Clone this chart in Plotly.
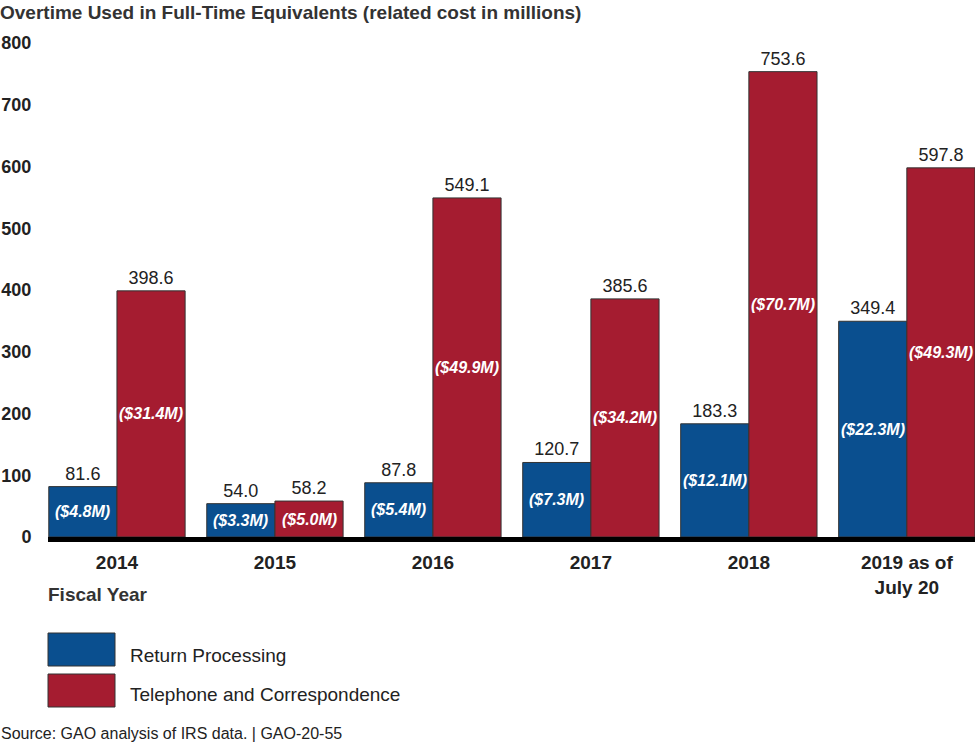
import plotly.graph_objects as go

# ---- data ----
years = ["2014", "2015", "2016", "2017", "2018", "2019 as of<br>July 20"]
return_fte = [81.6, 54.0, 87.8, 120.7, 183.3, 349.4]
return_cost = [4.8, 3.3, 5.4, 7.3, 12.1, 22.3]
phone_fte = [398.6, 58.2, 549.1, 385.6, 753.6, 597.8]
phone_cost = [31.4, 5.0, 49.9, 34.2, 70.7, 49.3]
y_ticks = [0, 100, 200, 300, 400, 500, 600, 700, 800]

BLUE = "#0A4F8F"
RED = "#A51C30"
FONT = "Liberation Sans, Arial, sans-serif"
TXT = "#222222"

W, H = 980, 747
ML, MR, MT, MB = 48, 5, 43, 210
PH = H - MT - MB

def py(p):
    """pixel y (from top) -> paper y"""
    return (H - MB - p) / PH

def px(p):
    """pixel x -> paper x"""
    return (p - ML) / (W - ML - MR)

BARGAP = 0.137
bw = (1 - BARGAP) / 2

fig = go.Figure()
fig.add_trace(go.Bar(
    x=list(range(len(years))), y=return_fte, name="Return Processing",
    marker=dict(color=BLUE, line=dict(color="#333333", width=1)),
    text=[f"{v:.1f}" for v in return_fte], textposition="outside",
    textfont=dict(family=FONT, size=18, color=TXT), cliponaxis=False,
    hoverinfo="skip",
))
fig.add_trace(go.Bar(
    x=list(range(len(years))), y=phone_fte, name="Telephone and Correspondence",
    marker=dict(color=RED, line=dict(color="#333333", width=1)),
    text=[f"{v:.1f}" for v in phone_fte], textposition="outside",
    textfont=dict(family=FONT, size=18, color=TXT), cliponaxis=False,
    hoverinfo="skip",
))

ann = []
for i in range(len(years)):
    for vals, costs, off in ((return_fte, return_cost, -bw / 2), (phone_fte, phone_cost, bw / 2)):
        ann.append(dict(
            x=i + off, y=vals[i] / 2, xref="x", yref="y",
            text=f"<b><i>(${costs[i]:.1f}M)</i></b>", showarrow=False,
            font=dict(family=FONT, size=16, color="white"),
            xanchor="center", yanchor="middle",
        ))

# axis title
ann.append(dict(x=px(46), y=py(594), xref="paper", yref="paper", text="<b>Fiscal Year</b>",
                showarrow=False, xanchor="left", yanchor="middle",
                font=dict(family=FONT, size=19, color="#333333")))
# legend text
ann.append(dict(x=px(128), y=py(655), xref="paper", yref="paper", text="Return Processing",
                showarrow=False, xanchor="left", yanchor="middle",
                font=dict(family=FONT, size=19, color=TXT)))
ann.append(dict(x=px(128), y=py(694), xref="paper", yref="paper", text="Telephone and Correspondence",
                showarrow=False, xanchor="left", yanchor="middle",
                font=dict(family=FONT, size=19, color=TXT)))
# source
ann.append(dict(x=px(-1), y=py(733), xref="paper", yref="paper",
                text="Source: GAO analysis of IRS data. | GAO-20-55",
                showarrow=False, xanchor="left", yanchor="middle",
                font=dict(family=FONT, size=16, color=TXT)))

shapes = [
    dict(type="rect", xref="paper", yref="paper", x0=px(48), x1=px(115), y0=py(666), y1=py(633),
         fillcolor=BLUE, line=dict(color="#333333", width=1)),
    dict(type="rect", xref="paper", yref="paper", x0=px(48), x1=px(115), y0=py(707), y1=py(674),
         fillcolor=RED, line=dict(color="#333333", width=1)),
]

fig.update_layout(
    width=W, height=H,
    margin=dict(l=ML, r=MR, t=MT, b=MB, autoexpand=False),
    paper_bgcolor="white", plot_bgcolor="white",
    barmode="group", bargap=BARGAP, bargroupgap=0,
    showlegend=False,
    title=dict(text="<b>Overtime Used in Full-Time Equivalents (related cost in millions)</b>",
               x=0, xref="container", xanchor="left",
               y=1 - 12 / H, yref="container", yanchor="middle",
               font=dict(family=FONT, size=19, color="#333333")),
    annotations=ann, shapes=shapes,
    font=dict(family=FONT, color=TXT),
)
fig.update_xaxes(
    tickmode="array", tickvals=list(range(len(years))), ticktext=[f"<b>{y}</b>" for y in years],
    range=[-bw - 0.005, len(years) - 1 + bw],
    showline=True, linecolor="black", linewidth=5,
    ticks="outside", ticklen=4, tickcolor="rgba(0,0,0,0)",
    tickfont=dict(family=FONT, size=19, color=TXT),
    showgrid=False, zeroline=False, fixedrange=True, automargin=False,
)
fig.update_yaxes(
    range=[0, 800], tickmode="array", tickvals=y_ticks,
    ticktext=[f"<b>{t}</b>" for t in y_ticks],
    ticks="outside", ticklen=12, tickcolor="rgba(0,0,0,0)",
    tickfont=dict(family=FONT, size=18, color=TXT),
    showgrid=False, zeroline=False, showline=False, fixedrange=True, automargin=False,
)

fig.write_html(
    "out.html",
    config={"displayModeBar": False},
    post_script="document.body.style.margin='0';document.body.style.overflow='hidden';",
)
